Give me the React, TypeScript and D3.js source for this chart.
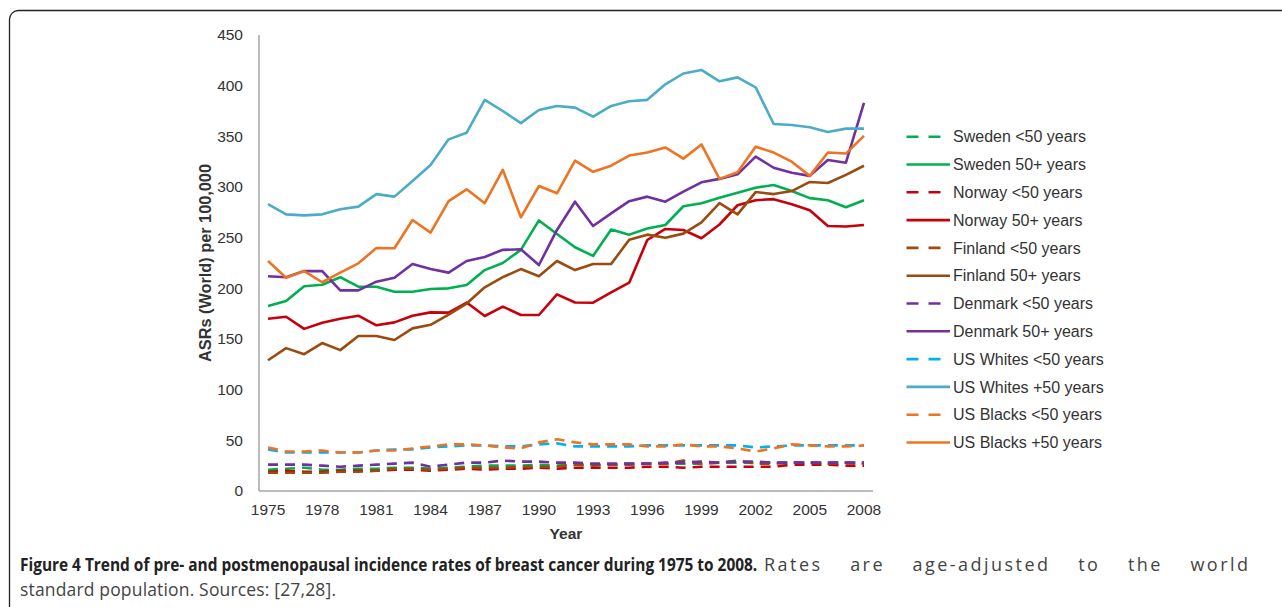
import React from "react";
import * as d3 from "d3";

const years = [1975,1976,1977,1978,1979,1980,1981,1982,1983,1984,1985,1986,1987,1988,1989,1990,1991,1992,1993,1994,1995,1996,1997,1998,1999,2000,2001,2002,2003,2004,2005,2006,2007,2008];
const xTickYears = [1975,1978,1981,1984,1987,1990,1993,1996,1999,2002,2005,2008];
const yTicks = [0,50,100,150,200,250,300,350,400,450];

const swedenU50 = [21,22,23,21,21,22,22,23,23,22, 23,24,25,25,25,26,25,26,26,26, 27,27,27,27,27,28,28,28,28,28, 28,28,28,28];
const sweden50 = [182.6,187.5,202,203.6,211,201.6,201.6,196.7,196.7,199.3, 200,203.3,218,225,238,267,253.6,240.5,232,258, 253,259,262.5,281,284,289.5,294.4,299.3,302,296, 289,287,280,287];
const norwayU50 = [19,20,19,19,20,20,20,21,21,20, 21,22,21,22,22,23,22,23,23,23, 23,24,24,23,24,24,24,24,24,26, 26,26,25,25];
const norway50 = [170,172,160,166,170,173,163.5,166.4,173,176.3, 176,186,172.7,182,173.7,173.7,194,186,185.8,196, 205.6,247.7,258.6,257.6,249.4,263,282,287,288,283, 277,261.5,261,262.5];
const finlandU50 = [18,18,18,18,19,19,20,22,22,21, 22,23,23,23,24,24,24,26,25,26, 26,27,27,30,27,28,30,27,27,28, 28,27,28,27];
const finland50 = [129,141,135,146,139,153,153,149,160.5,164, 174,185,201,211,219,212,227,218,224,224, 248,253,250,254,265,284,273,295,293,296, 305,304,312,321];
const denmarkU50 = [26,26,26,25,24,25,26,27,28,24, 26,28,28,30,29,29,28,28,27,27, 27,27,28,28,29,28,29,29,28,28, 28,28,28,28];
const denmark50 = [212,211,217,217,198,198,206.6,210.5,224,219, 215.5,227,231,238,238.5,223,257.6,285.5,261.5,274, 286,290.5,285.5,295.4,304.6,308,312.5,330,319,314, 311,326.7,324,383];
const usWhitesU50 = [41,38,38,38,38,38,40,41,41,43, 44,45,45,44,44,46,47,44,44,44, 44,45,45,45,45,45,45,43,44,45, 45,45,45,45];
const usWhites50 = [283,273,272,273,278,280.6,293,290.5,306,321.7, 347,353.6,386,375,363,376,380,378.3,369.4,380, 384.6,386,401.3,412,415.5,404.3,408.2,398.4,362.2,361.2, 359,354.3,357.6,357.6];
const usBlacksU50 = [43,39,39,40,38,38,40,40,42,44, 46,46,45,43,42,48,51,48,46,46, 46,44,44,46,44,44,42,39,42,46, 45,44,44,45];
const usBlacks50 = [227,210.5,217,206,215.5,224.7,239.8,239.5,267.4,255, 286,297.7,284,317,270,301,293.8,326,315,321, 331,334,339,328,342,308,314.5,339.8,334,325, 311,334,333,350.5];

const seriesNames = ["Sweden <50 years","Sweden 50+ years","Norway <50 years","Norway 50+ years","Finland <50 years","Finland 50+ years","Denmark <50 years","Denmark 50+ years","US Whites <50 years","US Whites +50 years","US Blacks <50 years","US Blacks +50 years"];
const seriesValues = [swedenU50, sweden50, norwayU50, norway50, finlandU50, finland50, denmarkU50, denmark50, usWhitesU50, usWhites50, usBlacksU50, usBlacks50];
const seriesColors = ["#00b050","#00b050","#c8000c","#c8000c","#9a4b10","#9a4b10","#7030a0","#7030a0","#00b0f0","#4bacc6","#ee7322","#ee7322"];
const seriesDashed = [true,false,true,false,true,false,true,false,true,false,true,false];

const captionBold = "Figure 4 Trend of pre- and postmenopausal incidence rates of breast cancer during 1975 to 2008.";
const captionRest = "Rates are age-adjusted to the world";
const captionLine2 = "standard population. Sources: [27,28].";

function measure(text: string, fontSpec: string): number {
  if (typeof document === "undefined") return 0;
  const c = document.createElement("canvas");
  const ctx = c.getContext("2d");
  if (!ctx) return 0;
  ctx.font = fontSpec;
  return ctx.measureText(text).width;
}

export default function App() {
  const x = d3.scalePoint<number>().domain(years).range([259, 873]).padding(0.5);
  const y = d3.scaleLinear().domain([0, 450]).range([491, 35]);
  const line = d3.line<number>().x((_, i) => x(years[i]) as number).y((d) => y(d));
  const axisColor = "#a6a6a6";
  const textColor = "#333333";
  const font = "'Liberation Sans', Arial, sans-serif";
  const capFont = "'Open Sans', sans-serif";

  const boldSize = 17;
  const boldWidth = measure(captionBold, `bold ${boldSize}px 'Open Sans'`);
  const boldScale = boldWidth > 0 ? 738 / boldWidth : 0.8;

  const restSize = 18;
  const restWidth = measure(captionRest, `${restSize}px 'Open Sans'`);
  const restTarget = 1248 - 764;
  const spaces = captionRest.split(" ").length - 1;
  const gaps = captionRest.length - 1;
  const extra = restWidth > 0 ? Math.max(0, restTarget - restWidth) : 0;
  const letterSpacing = (extra * 0.45) / gaps;
  const wordSpacing = (extra * 0.55) / spaces;

  const l2Size = 17.5;
  const l2Width = measure(captionLine2, `${l2Size}px 'Open Sans'`);
  const l2Spacing = l2Width > 0 ? (316 - l2Width) / (captionLine2.length - 1) : 0;

  return (
    <div style={{ position: "absolute", left: 0, top: 0 }}>
      <svg width={1282} height={607} style={{ display: "block", background: "#fff" }}>
        <rect x={9.5} y={10.5} width={1400} height={700} rx={9} ry={9} fill="none" stroke="#222" strokeWidth={1.3} />
        <line x1={259} x2={259} y1={y(450)} y2={y(0)} stroke={axisColor} strokeWidth={1.5} />
        <line x1={259} x2={873} y1={y(0)} y2={y(0)} stroke={axisColor} strokeWidth={1.5} />
        {yTicks.map((t) => (
          <text key={t} x={243} y={y(t)} dy="0.35em" textAnchor="end" fontFamily={font} fontSize={15.5} fill={textColor}>{t}</text>
        ))}
        {xTickYears.map((t) => (
          <text key={t} x={x(t) as number} y={515} textAnchor="middle" fontFamily={font} fontSize={15.5} fill={textColor}>{t}</text>
        ))}
        <text x={566} y={539} textAnchor="middle" fontFamily={font} fontSize={15.5} fontWeight="bold" fill={textColor}>Year</text>
        <text transform={`translate(211,263) rotate(-90)`} textAnchor="middle" fontFamily={font} fontSize={16.3} fontWeight="bold" fill={textColor}>ASRs (World) per 100,000</text>
        {seriesValues.map((vals, i) => (
          <path key={seriesNames[i]} d={line(vals) || ""} fill="none" stroke={seriesColors[i]} strokeWidth={2.6}
            strokeDasharray={seriesDashed[i] ? "10,7" : undefined} strokeLinejoin="round" />
        ))}
        {seriesNames.map((name, i) => {
          const ly = 136.7 + i * 27.8;
          return (
            <g key={name}>
              <line x1={906.5} x2={950} y1={ly} y2={ly} stroke={seriesColors[i]} strokeWidth={2.6}
                strokeDasharray={seriesDashed[i] ? "12,10" : undefined} />
              <text x={953} y={ly} dy="0.35em" fontFamily={font} fontSize={16} fill={textColor}>{name}</text>
            </g>
          );
        })}
        <text transform={`translate(20,571) scale(${boldScale},1)`} x={0} y={0} fontFamily={capFont} fontSize={boldSize} fontWeight="bold" fill="#222">{captionBold}</text>
        <text x={764} y={571} fontFamily={capFont} fontSize={restSize} fill="#444" style={{ wordSpacing: `${wordSpacing}px`, letterSpacing: `${letterSpacing}px` }}>{captionRest}</text>
        <text x={20} y={596} fontFamily={capFont} fontSize={l2Size} fill="#444" style={{ letterSpacing: `${l2Spacing}px` }}>{captionLine2}</text>
      </svg>
    </div>
  );
}
